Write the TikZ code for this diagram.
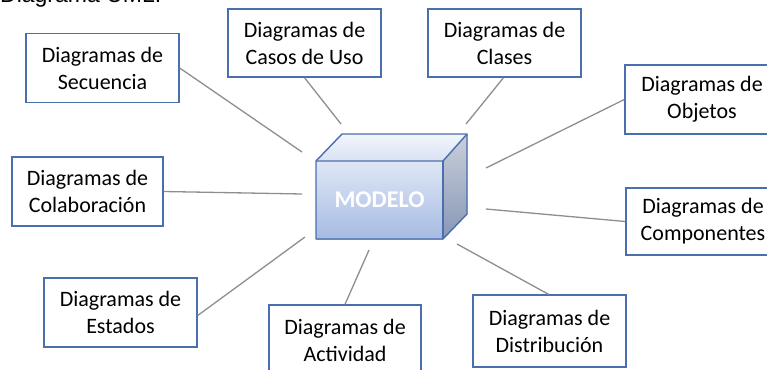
\documentclass[tikz,border=0pt]{standalone}
\usepackage{fontspec}
\setmainfont{Carlito}
\newfontfamily\titlefont{Liberation Sans}
\definecolor{boxblue}{HTML}{4A6EAE}
\definecolor{linegray}{HTML}{8E8E8E}
\definecolor{frontTop}{HTML}{DFE7F6}
\definecolor{frontBot}{HTML}{A6BBE2}
\definecolor{topA}{HTML}{F2F5FC}
\definecolor{topB}{HTML}{D9E2F3}
\definecolor{sideTop}{HTML}{CACFDA}
\definecolor{sideBot}{HTML}{8797B6}
\tikzset{
  diag/.style={draw=boxblue, line width=1.4pt, fill=white, rectangle,
    minimum width=153pt, minimum height=69pt, align=center, inner sep=0pt,
    font=\fontsize{22}{27}\selectfont},
  conn/.style={draw=linegray, line width=1.3pt},
  cubeedge/.style={draw=boxblue, line width=1.4pt, line join=round}
}
\begin{document}
\begin{tikzpicture}[x=1pt,y=-1pt]
\useasboundingbox (0,0) rectangle (767,369);
\clip (0,0) rectangle (767,369);
% title (cut at top)
\node[anchor=base west, inner sep=0pt, font=\titlefont\fontsize{23}{27}\selectfont] (title) at (0,2.5) {Diagrama UML:};
% boxes
\node[diag] (sec) at (102.5,68) {Diagramas de\\Secuencia};
\node[diag, minimum height=68pt] (casos) at (304.5,43) {Diagramas de\\Casos de Uso};
\node[diag, minimum height=68pt] (clases) at (504.5,43) {Diagramas de\\Clases};
\node[diag, minimum width=154pt] (obj) at (702,99.5) {Diagramas de\\Objetos};
\node[diag, minimum width=154pt, minimum height=67pt] (comp) at (703,221.5) {Diagramas de\\Componentes};
\node[diag, minimum width=151pt] (colab) at (87.5,191.5) {Diagramas de\\Colaboración};
\node[diag] (est) at (120.5,312.5) {Diagramas de\\Estados};
\node[diag, minimum width=152pt, minimum height=70pt] (act) at (345,340) {Diagramas de\\Actividad};
\node[diag, minimum height=72pt] (dist) at (549.5,331) {Diagramas de\\Distribución};
% cube
\fill[top color=topA, bottom color=topB] (316,161) -- (342,134) -- (467,134) -- (443,161) -- cycle;
\fill[top color=sideTop, bottom color=sideBot] (443,161) -- (467,134) -- (467,214) -- (443,239) -- cycle;
\fill[top color=frontTop, bottom color=frontBot] (316,161) rectangle (443,239);
\draw[cubeedge] (316,161) -- (342,134) -- (467,134) -- (467,214) -- (443,239) -- (316,239) -- cycle;
\draw[cubeedge] (316,161) -- (443,161) -- (467,134);
\draw[cubeedge] (443,161) -- (443,239);
\node[text=white, font=\bfseries\fontsize{24}{28}\selectfont, inner sep=0pt] (modelo) at (379.5,200) {MODELO};
% connector ends
\coordinate (e1) at (302,152);
\coordinate (e2) at (341,124);
\coordinate (e3) at (466,124);
\coordinate (e4) at (486,168);
\coordinate (e5) at (486,209);
\coordinate (e6) at (302,194);
\coordinate (e7) at (305,237);
\coordinate (e8) at (369,250);
\coordinate (e9) at (457,244);
% connectors
\draw[conn] (sec.east) -- (e1);
\draw[conn] (casos.south) -- (e2);
\draw[conn] ([xshift=-1pt]clases.south) -- (e3);
\draw[conn] (obj.west) -- (e4);
\draw[conn] (comp.west) -- (e5);
\draw[conn] (colab.east) -- (e6);
\draw[conn] ([yshift=-3pt]est.east) -- (e7);
\draw[conn] (act.north) -- (e8);
\draw[conn] ([xshift=-1pt]dist.north) -- (e9);
\end{tikzpicture}
\end{document}
